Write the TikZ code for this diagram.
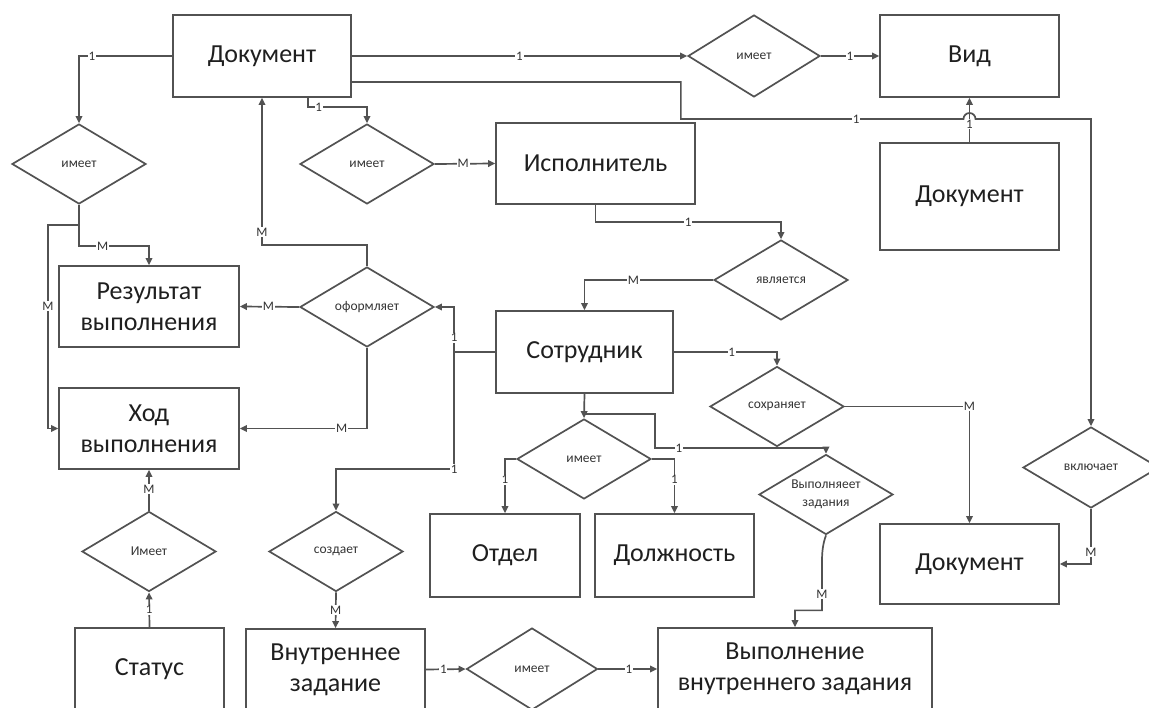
\documentclass[tikz,border=0pt]{standalone}
\usepackage{fontspec}
\setmainfont{Carlito}
\usetikzlibrary{shapes.geometric,arrows.meta,calc}
\begin{document}
\begin{tikzpicture}[x=1pt,y=-1pt,
  line/.style={draw=black!68,line width=1.7pt},
  arr/.style={line,-{Triangle[length=7pt,width=6.5pt]}},
  ent/.style={line,rectangle,inner sep=0pt,align=center,text=black!88,
    font=\fontsize{26}{31}\selectfont},
  dia/.style={line,diamond,inner sep=0pt,aspect=1.67,minimum width=134pt,
    minimum height=80pt,align=center,text=black!80,font=\fontsize{13.5}{18}\selectfont},
  lab/.style={fill=white,inner sep=0.8pt,text=black!80,font=\fontsize{13}{13}\selectfont}]
\useasboundingbox (0,0) rectangle (1149,708);
\clip (0,0) rectangle (1149,708);
% entities
\node[ent,minimum width=178pt,minimum height=82pt] (doc1) at (262,56) {Документ};
\node[ent,minimum width=179pt,minimum height=82pt] (vid) at (969.5,56) {Вид};
\node[ent,minimum width=179pt,minimum height=107pt] (doc2) at (969.5,196.5) {Документ};
\node[ent,minimum width=199pt,minimum height=81pt] (ispol) at (595.5,163.5) {Исполнитель};
\node[ent,minimum width=177pt,minimum height=82pt] (sotr) at (584.5,352) {Сотрудник};
\node[ent,minimum width=180pt,minimum height=81pt] (rez) at (149,306.5) {Результат\\выполнения};
\node[ent,minimum width=180pt,minimum height=81pt] (hod) at (149,428.5) {Ход\\выполнения};
\node[ent,minimum width=150pt,minimum height=83pt] (otdel) at (505,555.5) {Отдел};
\node[ent,minimum width=159pt,minimum height=83pt] (dolzh) at (674.5,555.5) {Должность};
\node[ent,minimum width=179pt,minimum height=80pt] (doc3) at (969.5,564) {Документ};
\node[ent,minimum width=149pt,minimum height=82pt] (stat) at (149.5,669) {Статус};
\node[ent,minimum width=179pt,minimum height=81pt] (vnutr) at (335.5,669.5) {Внутреннее\\задание};
\node[ent,minimum width=274pt,minimum height=82pt] (vyp) at (795,669) {Выполнение\\внутреннего задания};
% relationships
\node[dia,minimum width=132pt,minimum height=82pt] (dtop) at (754,56) {имеет};
\node[dia] (dleft) at (79,164) {имеет};
\node[dia] (dmid) at (367,164) {имеет};
\node[dia] (dis) at (781,280) {является};
\node[dia] (dform) at (367,307) {оформляет};
\node[dia] (dsave) at (777,406.5) {сохраняет};
\node[dia] (dhas) at (584,459) {имеет};
\node[dia] (dexec) at (826,494.5) {Выполняеет\\задания};
\node[dia,minimum width=136pt,minimum height=81pt] (dincl) at (1091,467.5) {включает};
\node[dia] (dstat) at (149,551.5) {Имеет};
\node[dia] (dcreate) at (336,551.5) {создает};
\node[dia,minimum width=131pt,minimum height=82pt] (dbot) at (532,669) {имеет};
% connectors
\draw[arr] (doc1.west) -| node[lab,pos=0.43]{1} (dleft.north);
\draw[arr] (doc1.east) -- node[lab]{1} (dtop.west);
\draw[arr] (dtop.east) -- node[lab]{1} (vid.west);
\coordinate (hopL) at (963.5,119);
\coordinate (hopR) at (975.5,119);
\draw[arr] ([yshift=-26pt]doc1.east) -- ++(329,0) -- ++(0,37)
  -- node[lab,pos=0.62]{1} (hopL) arc[start angle=180,end angle=0,radius=6pt]
  -- (dincl.north |- hopR) -- (dincl.north);
\draw[arr] (doc2.north) -- node[lab,pos=0.4]{1} (vid.south);
\draw[arr] ([xshift=46pt]doc1.south) -- ++(0,9) -| node[lab,pos=0.09]{1} (dmid.north);
\draw[arr] (dmid.east) -- node[lab,pos=0.47]{M} (ispol.west);
\draw[arr] (ispol.south) -- ++(0,17) -| node[lab,pos=0.25]{1} (dis.north);
\draw[arr] (dis.west) -| node[lab,pos=0.31]{M} (sotr.north);
\draw[arr] (sotr.east) -| node[lab,pos=0.28]{1} (dsave.north);
\draw[arr] (dsave.east) -| node[lab,pos=0.5]{M} (doc3.north);
\draw[arr] (dincl.south) |- node[lab,pos=0.39]{M} (doc3.east);
\draw[arr] (sotr.south) -- (dhas.north);
\coordinate (br) at ($(dhas.north)+(0,-4)$);
\draw[arr] (br) -- ++(71,0) -- ++(0,34) -| node[lab,pos=0.07]{1} (dexec.north);
\draw[arr] (dhas.west) -| node[lab,pos=0.69]{1} (otdel.north);
\draw[arr] (dhas.east) -| node[lab,pos=0.69]{1} (dolzh.north);
\draw[arr] (dexec.south) .. controls +(-3,8) and +(0,-10) .. ++(-4,26)
  -- node[lab,pos=0.67]{M} ++(0,49) -| (vyp.north);
\coordinate (jn) at ($(sotr.west)+(-41,0)$);
\draw[line] (sotr.west) -- (jn);
\draw[arr] (jn) |- node[lab,pos=0.16]{1} (dform.east);
\draw[arr] (jn) -- ++(0,117) node[lab]{1} -| (dcreate.north);
\draw[arr] (dform.north) -- ++(0,-21) -| node[lab,pos=0.544]{M} (doc1.south);
\draw[arr] (dform.west) -- node[lab,pos=0.52]{M} (rez.east);
\draw[arr] (dform.south) |- node[lab,pos=0.6]{M} (hod.east);
\draw[arr] (dleft.south) -- ++(0,41) -| node[lab,pos=0.17]{M} (rez.north);
\coordinate (lb) at ($(dleft.south)+(0,20)$);
\draw[arr] (lb) -- ++(-31,0) |- node[lab,pos=0.2]{M} (hod.west);
\draw[arr] (stat.north) -- node[lab]{1} (dstat.south);
\draw[arr] (dstat.north) -- node[lab,pos=0.53]{M} (hod.south);
\draw[arr] (dcreate.south) -- node[lab]{M} (vnutr.north);
\draw[arr] (vnutr.east) -- node[lab,pos=0.44]{1} (dbot.west);
\draw[arr] (dbot.east) -- node[lab,pos=0.52]{1} (vyp.west);
\end{tikzpicture}
\end{document}
